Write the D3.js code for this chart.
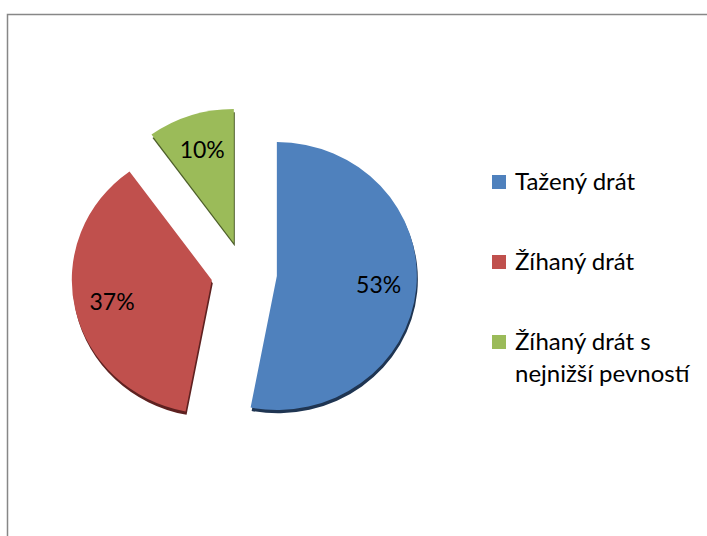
<!DOCTYPE html>
<html>
<head>
<meta charset="utf-8">
<script src="https://d3js.org/d3.v7.min.js"></script>
<style>
body {
  margin: 0;
  background: white;
  font-family: Lato, "Open Sans", sans-serif;
}
</style>
<title>Pie</title>
</head>
<body onload='init()'>
<div id="chart"></div>
<script>
// data
const categories = ["Tažený drát", "Žíhaný drát", "Žíhaný drát s nejnižší pevností"];
const legendLines = [["Tažený drát"], ["Žíhaný drát"], ["Žíhaný drát s", "nejnižší pevností"]];
const values = [53, 37, 10];
const labels = ["53%", "37%", "10%"];
const colors = ["#4F81BD", "#C0504D", "#9BBB59"];
const shadows = ["#1f3552", "#5e2120", "#4c5e29"];

function init() {
  const width = 707;
  const height = 536;
  const cx = 244, cy = 273;
  const radius = 140;
  const squash = 0.957;   // the picture is slightly flattened vertically
  const explode = 33;

  const svg = d3.create("svg")
      .attr("width", width)
      .attr("height", height)
      .attr("viewBox", [0, 0, width, height]);

  // chart frame (runs off the right and bottom)
  svg.append("rect")
      .attr("x", 7.5).attr("y", 14.5)
      .attr("width", width + 20).attr("height", height + 20)
      .attr("fill", "white")
      .attr("stroke", "#878787")
      .attr("stroke-width", 1.5);

  const pie = d3.pie().sort(null).value(d => d);
  const arcs = pie(values);
  const arc = d3.arc().innerRadius(0).outerRadius(radius);

  // offset of each exploded slice along its bisector
  const shift = d => {
    const a = (d.startAngle + d.endAngle) / 2;
    return [explode * Math.sin(a), -explode * Math.cos(a)];
  };

  const g = svg.append("g").attr("transform", `translate(${cx},${cy}) scale(1,${squash})`);

  const slices = g.selectAll("g.slice")
    .data(arcs)
    .join("g")
      .attr("class", "slice")
      .attr("transform", d => `translate(${shift(d)})`);

  // bevel / shadow edge
  slices.append("path")
      .attr("d", arc)
      .attr("transform", "translate(1,3.5)")
      .attr("fill", (d, i) => shadows[i]);

  slices.append("path")
      .attr("d", arc)
      .attr("fill", (d, i) => colors[i]);

  // percentage labels (kept outside the squashed group)
  const labelArc = d3.arc().innerRadius(radius * 0.73).outerRadius(radius * 0.73);
  svg.append("g")
    .selectAll("text")
    .data(arcs)
    .join("text")
      .attr("transform", d => {
        const [sx, sy] = shift(d);
        const [lx, ly] = labelArc.centroid(d);
        return `translate(${cx + sx + lx},${cy + (sy + ly) * squash})`;
      })
      .attr("text-anchor", "middle")
      .attr("dy", "0.36em")
      .attr("font-size", 23)
      .attr("fill", "black")
      .text((d, i) => labels[i]);

  // legend
  const legend = svg.append("g")
    .selectAll("g")
    .data(categories)
    .join("g")
      .attr("transform", (d, i) => `translate(492,${175 + i * 80})`);

  legend.append("rect")
      .attr("width", 14).attr("height", 14)
      .attr("fill", (d, i) => colors[i]);

  legend.append("text")
      .attr("x", 23)
      .attr("y", 15)
      .attr("font-size", 24)
      .attr("fill", "black")
      .selectAll("tspan")
      .data((d, i) => legendLines[i])
      .join("tspan")
        .attr("x", 23)
        .attr("dy", (d, j) => j === 0 ? 0 : 32)
        .text(d => d);

  document.getElementById("chart").appendChild(svg.node());
}
</script>
</body>
</html>
